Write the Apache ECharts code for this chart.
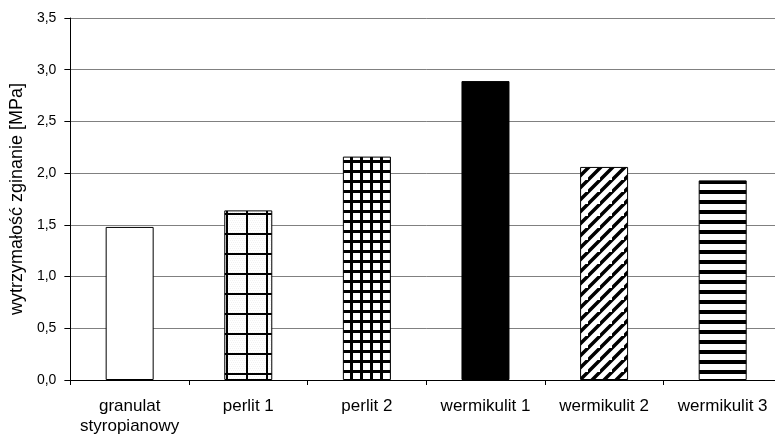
<!DOCTYPE html>
<html>
<head>
<meta charset="utf-8">
<script src="https://cdn.jsdelivr.net/npm/echarts@6/dist/echarts.min.js"></script>
<style>html,body{margin:0;padding:0;background:#fff;overflow:hidden}#c{width:790px;height:439px}</style>
</head>
<body>
<div id="c"></div>
<script>
const categories = ['granulat\nstyropianowy', 'perlit 1', 'perlit 2', 'wermikulit 1', 'wermikulit 2', 'wermikulit 3'];
const values = [1.48, 1.64, 2.16, 2.89, 2.06, 1.93];
const patterns = ['white', 'largeGrid', 'smallGrid', 'solid', 'diagonal', 'horizontal'];
const yTicks = { min: 0, max: 3.5, interval: 0.5 };

function makePattern(type) {
  const c = document.createElement('canvas');
  let s = 20;
  if (type === 'smallGrid') s = 10;
  if (type === 'diagonal') s = 12;
  if (type === 'horizontal') s = 10;
  c.width = s; c.height = s;
  const g = c.getContext('2d');
  g.fillStyle = '#fff'; g.fillRect(0, 0, s, s);
  g.fillStyle = '#000';
  if (type === 'largeGrid') {
    g.fillStyle = '#f2f2f2';
    for (let y = 0; y < s; y += 2) for (let x = (y / 2) % 2; x < s; x += 2) g.fillRect(x, y, 1, 1);
    g.fillStyle = '#000';
    g.fillRect(6, 0, 2, s);
    g.fillRect(0, 13, s, 2);
  } else if (type === 'smallGrid') {
    g.fillRect(0, 0, 3, s);
    g.fillRect(0, 0, s, 3);
  } else if (type === 'diagonal') {
    g.strokeStyle = '#000'; g.lineWidth = 3.5;
    g.beginPath();
    g.moveTo(-2, s + 2); g.lineTo(s + 2, -2);
    g.moveTo(-2 - s, s + 2); g.lineTo(2, -2);
    g.moveTo(s - 2, 2 * s + 2); g.lineTo(2 * s + 2, s - 2);
    g.stroke();
  } else if (type === 'horizontal') {
    g.fillRect(0, 0, s, 4);
  }
  return { image: c, repeat: 'repeat' };
}

function barColor(type) {
  if (type === 'white') return '#ffffff';
  if (type === 'solid') return '#000000';
  return makePattern(type);
}

const data = values.map((v, i) => ({
  value: v,
  itemStyle: { color: barColor(patterns[i]), borderColor: '#000', borderWidth: 1 }
}));

const chart = echarts.init(document.getElementById('c'), null, { renderer: 'canvas' });
chart.setOption({
  animation: false,
  backgroundColor: '#fff',
  textStyle: { fontFamily: 'Liberation Sans, Arial, sans-serif' },
  grid: { left: 67, top: 18, width: 715, height: 362, containLabel: false },
  xAxis: {
    type: 'category',
    data: categories,
    axisLine: { lineStyle: { color: '#000', width: 1 } },
    axisTick: { show: true, length: 5, lineStyle: { color: '#000' } },
    axisLabel: { color: '#000', fontSize: 17, lineHeight: 20, margin: 16, interval: 0, fontFamily: 'Liberation Sans' },
    splitLine: { show: false }
  },
  yAxis: {
    type: 'value',
    min: yTicks.min, max: yTicks.max, interval: yTicks.interval,
    name: 'wytrzymałość zginanie [MPa]',
    nameLocation: 'middle',
    nameGap: 41,
    nameRotate: 90,
    nameTextStyle: { color: '#000', fontSize: 18, fontFamily: 'Liberation Sans' },
    axisLine: { show: true, lineStyle: { color: '#000', width: 1 } },
    axisTick: { show: true, inside: false, length: 6, lineStyle: { color: '#000' } },
    axisLabel: {
      color: '#000', fontSize: 14, margin: 14, fontFamily: 'Liberation Sans',
      formatter: v => v.toFixed(1).replace('.', ',')
    },
    splitLine: { show: true, lineStyle: { color: '#808080', width: 1 } }
  },
  series: [{
    type: 'bar',
    data: data,
    barWidth: 48,
    emphasis: { disabled: true }
  }]
});
</script>
</body>
</html>
